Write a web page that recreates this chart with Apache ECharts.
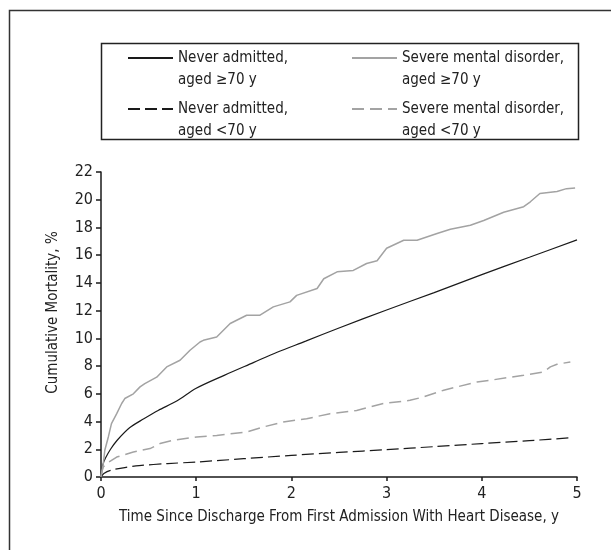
<!DOCTYPE html>
<html><head><meta charset="utf-8">
<script src="https://cdn.jsdelivr.net/npm/echarts@6/dist/echarts.min.js"></script>
<style>html,body{margin:0;padding:0;background:#fff}#c{width:611px;height:550px}</style>
</head><body><div id="c"></div>
<script>
// Series names
const seriesNames = [
  'Never admitted,\naged \u226570 y',
  'Severe mental disorder,\naged \u226570 y',
  'Never admitted,\naged <70 y',
  'Severe mental disorder,\naged <70 y'
];
// [years, cumulative mortality %]
const neverOld = [[0,0],[0.02,0.9],[0.05,1.4],[0.1,2.0],[0.17,2.65],[0.3,3.55],[0.45,4.2],[0.6,4.8],[0.8,5.5],[1.0,6.4],[1.3,7.35],[1.6,8.25],[1.85,9.0],[2.15,9.8],[2.5,10.75],[3,12.05],[3.5,13.3],[4,14.6],[4.5,15.85],[5,17.1]];
const severeOld = [[0,0],[0.007,0.25],[0.024,0.97],[0.04,1.93],[0.077,2.89],[0.11,3.85],[0.165,4.57],[0.217,5.3],[0.25,5.66],[0.34,6.0],[0.41,6.5],[0.46,6.74],[0.585,7.2],[0.69,7.94],[0.83,8.42],[0.935,9.14],[1.04,9.74],[1.075,9.86],[1.215,10.1],[1.357,11.07],[1.53,11.67],[1.67,11.67],[1.81,12.27],[1.985,12.63],[2.055,13.1],[2.27,13.6],[2.34,14.3],[2.48,14.8],[2.65,14.9],[2.79,15.4],[2.9,15.6],[3.0,16.5],[3.18,17.08],[3.32,17.08],[3.53,17.56],[3.67,17.87],[3.88,18.16],[4.02,18.5],[4.23,19.1],[4.44,19.5],[4.51,19.85],[4.61,20.45],[4.79,20.6],[4.89,20.8],[4.98,20.85]];
const neverYoung = [[0,0],[0.03,0.25],[0.1,0.48],[0.25,0.68],[0.4,0.82],[0.7,0.97],[1,1.08],[1.5,1.32],[2,1.56],[2.5,1.77],[3,1.97],[3.5,2.19],[4,2.41],[4.5,2.62],[4.96,2.84]];
const severeYoung = [[0,0],[0.01,0.4],[0.024,0.72],[0.06,0.97],[0.165,1.44],[0.34,1.8],[0.515,2.05],[0.62,2.41],[0.76,2.65],[1.005,2.89],[1.215,3.0],[1.53,3.25],[1.7,3.6],[1.915,3.97],[2.16,4.2],[2.405,4.57],[2.685,4.8],[2.965,5.3],[3.245,5.53],[3.385,5.77],[3.6,6.26],[3.74,6.5],[3.95,6.85],[4.09,6.98],[4.44,7.34],[4.65,7.58],[4.72,7.94],[4.79,8.13],[4.93,8.3]];
const xTicks = {min:0, max:5, interval:1};
const yTicks = {min:0, max:22, interval:2};

const FONT = "'Liberation Sans Narrow', 'DejaVu Sans Condensed', sans-serif";
const BLACK = '#1a1a1a', GRAY = '#a3a3a3';
const chart = echarts.init(document.getElementById('c'), null, {renderer:'canvas'});

function leg(name, left, top){
  return {
    show:true, data:[name], left:left, top:top, padding:0, itemWidth:45, itemHeight:10, itemGap:0,
    selectedMode:false,
    itemStyle:{opacity:0},
    formatter: n => '\n' + n,
    textStyle:{fontFamily:FONT, fontSize:15, color:'#222', lineHeight:22}
  };
}

chart.setOption({
  animation:false,
  backgroundColor:'#fff',
  graphic:[
    {type:'rect', shape:{x:9.5,y:10.5,width:800,height:800}, style:{fill:'none', stroke:'#333', lineWidth:1.5}, silent:true},
    {type:'rect', shape:{x:101.5,y:43.5,width:477,height:96}, style:{fill:'none', stroke:'#222', lineWidth:1.5}, silent:true}
  ],
  legend:[
    leg(seriesNames[0],127,25),
    leg(seriesNames[1],351,25),
    leg(seriesNames[2],127,76),
    leg(seriesNames[3],351,76)
  ],
  grid:{left:101, right:34, top:172, bottom:73, containLabel:false},
  xAxis:{type:'value', min:xTicks.min, max:xTicks.max, interval:xTicks.interval,
    name:'Time Since Discharge From First Admission With Heart Disease, y',
    nameLocation:'middle', nameGap:33,
    nameTextStyle:{fontFamily:FONT, fontSize:15, color:'#222'},
    axisLine:{lineStyle:{color:BLACK, width:1.5}},
    axisTick:{length:4, lineStyle:{color:BLACK, width:1.5}},
    axisLabel:{fontFamily:FONT, fontSize:16, color:'#222', margin:9},
    splitLine:{show:false}},
  yAxis:{type:'value', min:yTicks.min, max:yTicks.max, interval:yTicks.interval,
    name:'Cumulative Mortality, %', nameLocation:'middle', nameGap:40,
    nameTextStyle:{fontFamily:FONT, fontSize:15, color:'#222', padding:[0,0,0,24]},
    axisLine:{show:true, lineStyle:{color:BLACK, width:1.5}},
    axisTick:{show:true, length:5, lineStyle:{color:BLACK, width:1.5}},
    axisLabel:{fontFamily:FONT, fontSize:16, color:'#222', margin:8},
    splitLine:{show:false}},
  series:[
    {name:seriesNames[0], type:'line', data:neverOld, showSymbol:false, symbol:'none', smooth:0.3,
      lineStyle:{color:BLACK, width:1.2}, itemStyle:{color:BLACK}},
    {name:seriesNames[1], type:'line', data:severeOld, showSymbol:false, symbol:'none',
      lineStyle:{color:GRAY, width:1.5}, itemStyle:{color:GRAY}},
    {name:seriesNames[2], type:'line', data:neverYoung, showSymbol:false, symbol:'none', smooth:0.3,
      lineStyle:{color:BLACK, width:1.2, type:[12,5]}, itemStyle:{color:BLACK}},
    {name:seriesNames[3], type:'line', data:severeYoung, showSymbol:false, symbol:'none',
      lineStyle:{color:GRAY, width:1.5, type:[12,6]}, itemStyle:{color:GRAY}}
  ]
});
</script></body></html>
